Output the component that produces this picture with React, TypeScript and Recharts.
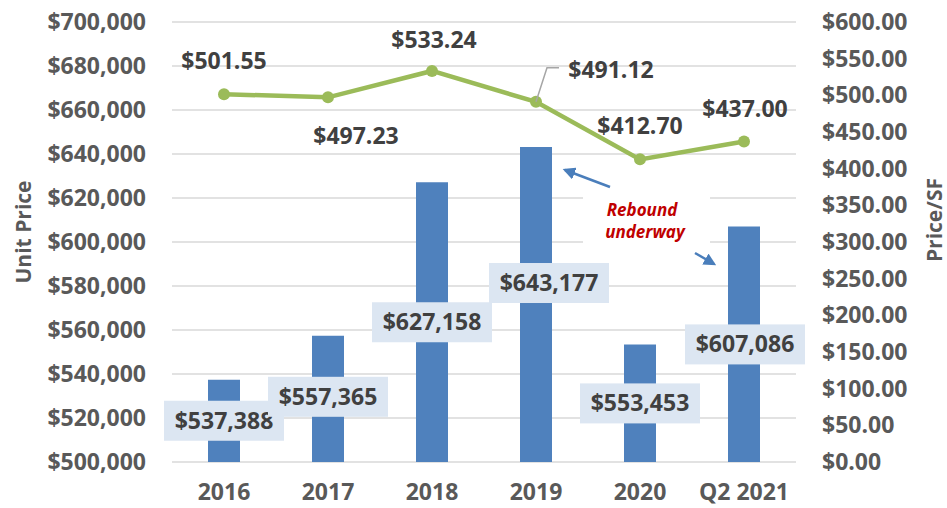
import React from "react";
import {
  ComposedChart,
  Bar,
  Line,
  XAxis,
  YAxis,
  CartesianGrid,
  LabelList,
  Customized,
} from "recharts";

const YEARS = ["2016", "2017", "2018", "2019", "2020", "Q2 2021"];
const UNIT_PRICE = [537388, 557365, 627158, 643177, 553453, 607086];
const PRICE_SF = [501.55, 497.23, 533.24, 491.12, 412.7, 437.0];
const UNIT_TICKS = [
  500000, 520000, 540000, 560000, 580000, 600000, 620000, 640000, 660000,
  680000, 700000,
];
const SF_TICKS = [0, 50, 100, 150, 200, 250, 300, 350, 400, 450, 500, 550, 600];

const data = YEARS.map((year, i) => ({
  year,
  unit: UNIT_PRICE[i],
  sf: PRICE_SF[i],
}));

// hand placement of the labels, like the original chart
const BAR_LABEL_DX = [0, 0, 0, 13, 0, 1];
const BAR_LABEL_DY = [41, 61, 140, 136, 59, 118];
const LINE_LABEL_DX = [0, 28, 2, 75, 0, 1];
const LINE_LABEL_DY = [-33, 39, -31, -32, -33, -33];

const FONT = "'Open Sans', sans-serif";
const TEXT = "#595959";
const LABEL_TEXT = "#404040";

const fmtUnit = (v: number) => "$" + v.toLocaleString("en-US");
const fmtSf = (v: number) => "$" + v.toFixed(2);

const BarLabel = (props: any) => {
  const { x, y, width, value, index } = props;
  const cx = x + width / 2 + BAR_LABEL_DX[index];
  const cy = y + BAR_LABEL_DY[index];
  return (
    <g>
      <rect x={cx - 60} y={cy - 20} width={120} height={40} fill="#DCE6F2" />
      <text
        x={cx}
        y={cy + 8}
        textAnchor="middle"
        fontFamily={FONT}
        fontWeight={700}
        fontSize={23}
        fill={LABEL_TEXT}
      >
        {fmtUnit(value)}
      </text>
    </g>
  );
};

const LineLabel = (props: any) => {
  const { x, y, value, index } = props;
  const cx = x + LINE_LABEL_DX[index];
  const cy = y + LINE_LABEL_DY[index];
  return (
    <g>
      {index === 3 && (
        <polyline
          points={`${x},${y} ${x + 11},${y - 34} ${x + 23},${y - 34}`}
          fill="none"
          stroke="#A6A6A6"
          strokeWidth={1.5}
        />
      )}
      <text
        x={cx}
        y={cy + 8}
        textAnchor="middle"
        fontFamily={FONT}
        fontWeight={700}
        fontSize={23}
        fill={LABEL_TEXT}
      >
        {fmtSf(value)}
      </text>
    </g>
  );
};

const Annotation = () => (
  <g>
    <defs>
      <marker
        id="arrow"
        viewBox="0 0 10 10"
        refX="8"
        refY="5"
        markerWidth="5"
        markerHeight="5"
        orient="auto"
      >
        <path d="M0,0 L10,5 L0,10 z" fill="#4A7EBB" />
      </marker>
    </defs>
    <rect x={583} y={180} width={127} height={78} fill="#fff" />
    <line
      x1={610}
      y1={187}
      x2={565}
      y2={170}
      stroke="#4A7EBB"
      strokeWidth={2.5}
      markerEnd="url(#arrow)"
    />
    <line
      x1={695}
      y1={253}
      x2={714}
      y2={264}
      stroke="#4A7EBB"
      strokeWidth={2.5}
      markerEnd="url(#arrow)"
    />
    <text
      x={642}
      y={216}
      textAnchor="middle"
      fontFamily={FONT}
      fontWeight={700}
      fontStyle="italic"
      fontSize={17}
      fill="#C00000"
    >
      Rebound
    </text>
    <text
      x={645}
      y={238}
      textAnchor="middle"
      fontFamily={FONT}
      fontWeight={700}
      fontStyle="italic"
      fontSize={17}
      fill="#C00000"
    >
      underway
    </text>
  </g>
);

const tickStyle = {
  fontFamily: FONT,
  fontWeight: 700,
  fontSize: 23,
  fill: TEXT,
};

export default function App() {
  return (
    <div style={{ position: "absolute", left: 0, top: 0 }}>
      <ComposedChart
        width={947}
        height={508}
        data={data}
        margin={{ top: 22, right: 0, bottom: 0, left: 0 }}
      >
        <CartesianGrid
          yAxisId="left"
          vertical={false}
          stroke="#D9D9D9"
          strokeWidth={1.5}
        />
        <XAxis
          dataKey="year"
          height={46}
          axisLine={false}
          tickLine={false}
          tickSize={0}
          tickMargin={22}
          tick={tickStyle}
          interval={0}
        />
        <YAxis
          yAxisId="left"
          width={172}
          domain={[500000, 700000]}
          ticks={UNIT_TICKS}
          tickFormatter={fmtUnit}
          axisLine={false}
          tickLine={false}
          tickSize={0}
          tickMargin={26}
          tick={tickStyle}
          label={(p: any) => (
            <text
              x={23}
              y={232}
              transform="rotate(-90 23 232)"
              textAnchor="middle"
              dominantBaseline="central"
              fontFamily={FONT}
              fontWeight={700}
              fontSize={21}
              fill={TEXT}
            >
              Unit Price
            </text>
          )}
        />
        <YAxis
          yAxisId="right"
          orientation="right"
          width={151}
          domain={[0, 600]}
          ticks={SF_TICKS}
          tickFormatter={fmtSf}
          axisLine={false}
          tickLine={false}
          tickSize={0}
          tickMargin={26}
          tick={tickStyle}
          label={(p: any) => (
            <text
              x={934}
              y={220}
              transform="rotate(-90 934 220)"
              textAnchor="middle"
              dominantBaseline="central"
              fontFamily={FONT}
              fontWeight={700}
              fontSize={21}
              fill={TEXT}
            >
              Price/SF
            </text>
          )}
        />
        <Bar
          yAxisId="left"
          dataKey="unit"
          fill="#4F81BD"
          barSize={32}
          isAnimationActive={false}
        >
          <LabelList dataKey="unit" content={BarLabel} />
        </Bar>
        <Line
          yAxisId="right"
          dataKey="sf"
          stroke="#9BBB59"
          strokeWidth={4.5}
          dot={{ r: 6, fill: "#9BBB59", stroke: "none" }}
          activeDot={false}
          isAnimationActive={false}
        >
          <LabelList dataKey="sf" content={LineLabel} />
        </Line>
        <Customized component={Annotation} />
      </ComposedChart>
    </div>
  );
}
